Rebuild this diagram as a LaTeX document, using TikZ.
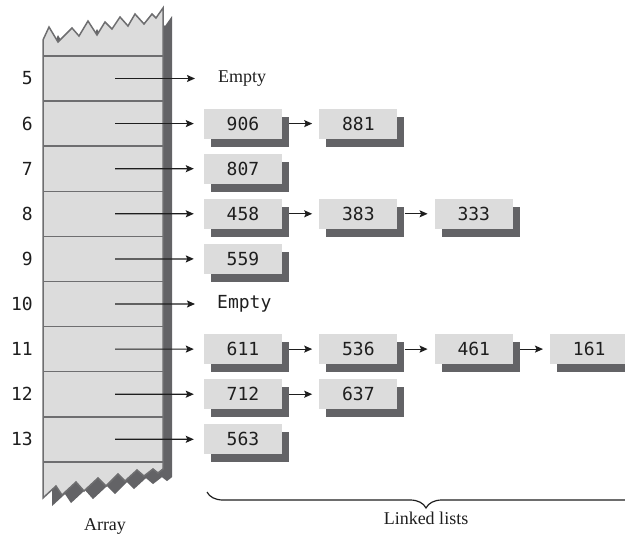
\documentclass[tikz,border=0pt]{standalone}
\usepackage{fontspec}
\setmainfont{Liberation Serif}
\newfontfamily\codefont{DejaVu Sans Mono}
\usetikzlibrary{positioning,arrows.meta,shadows,decorations.pathreplacing}
\definecolor{cellgray}{HTML}{DCDCDC}
\definecolor{edgegray}{HTML}{6E6E70}
\definecolor{shadegray}{HTML}{636366}
\definecolor{inkgray}{HTML}{1E1E1E}

\begin{document}
\begin{tikzpicture}[x=1pt,y=-1pt,
    item/.style={fill=cellgray,minimum width=78pt,minimum height=30pt,inner sep=0pt,
      text=inkgray,font=\codefont\fontsize{18}{20}\selectfont,
      drop shadow={shadow xshift=7pt,shadow yshift=-8pt,fill=shadegray,opacity=1}},
    idx/.style={anchor=east,inner sep=0pt,text=inkgray,font=\codefont\fontsize{18}{20}\selectfont},
    caption/.style={inner sep=0pt,text=inkgray,font=\fontsize{18}{20}\selectfont},
    arr/.style={-{Stealth[length=8pt,width=7pt,inset=1.5pt]},line width=1.2pt,draw=inkgray},
    link/.style={arr,shorten <=7pt,shorten >=7pt},
    arrfill/.style={fill=cellgray,draw=edgegray,line width=1.5pt},
    arrshade/.style={fill=shadegray,draw=none},
    brace/.style={decorate,decoration={brace,mirror,amplitude=16pt},line width=1.2pt,draw=inkgray}
  ]
  \useasboundingbox (0,0) rectangle (625,535);
  \clip (0,0) rectangle (625,535);

  % the array, torn at top and bottom, with its shadow
  \foreach \dx/\st in {9/arrshade,0/arrfill}
    \filldraw[\st,shift={(\dx,\dx*0.9)}] (43,40) -- (49,27) -- (58,42) -- (72,28) -- (79,36)
      -- (88,21) -- (97,35) -- (105,22) -- (112,29) -- (120,17) -- (128,26) -- (135,14)
      -- (144,24) -- (152,14) -- (156,18) -- (163,8) -- (163,469) -- (158,473) -- (153,469)
      -- (144,476) -- (137,470) -- (125,481) -- (118,474) -- (106,486) -- (98,478)
      -- (84,491) -- (76,482) -- (62,495) -- (56,486) -- (43,498) -- cycle;
  \foreach \k in {0,...,9}
    \draw[edgegray,line width=1.5pt] (43,{56+45.1*\k}) -- (163,{56+45.1*\k});

  % slot numbers
  \foreach \k in {5,...,13} {
    \node[idx] (i\k) at (33,{78.5+45.1*(\k-5)}) {\k};
    \coordinate (s\k) at (115,{78.5+45.1*(\k-5)});
  }

  % linked lists
  \node[caption,anchor=west] (empty5) at (218,78.5) {Empty};
  \node[item] (l6a) at (243,123.6) {906};
  \node[item,right=37pt of l6a] (l6b) {881};
  \node[item] (l7a) at (243,168.7) {807};
  \node[item] (l8a) at (243,213.8) {458};
  \node[item,right=37pt of l8a] (l8b) {383};
  \node[item,right=37pt of l8b] (l8c) {333};
  \node[item] (l9a) at (243,258.9) {559};
  \node[idx,anchor=west] (empty10) at (217,304) {Empty};
  \node[item] (l11a) at (243,349.1) {611};
  \node[item,right=37pt of l11a] (l11b) {536};
  \node[item,right=37pt of l11b] (l11c) {461};
  \node[item,right=37pt of l11c] (l11d) {161};
  \node[item] (l12a) at (243,394.2) {712};
  \node[item,right=37pt of l12a] (l12b) {637};
  \node[item] (l13a) at (243,439.3) {563};

  \draw[arr,shorten >=23pt] (s5) -- (empty5.west);
  \draw[arr,shorten >=10pt] (s6) -- (l6a.west);
  \draw[arr,shorten >=10pt] (s7) -- (l7a.west);
  \draw[arr,shorten >=10pt] (s8) -- (l8a.west);
  \draw[arr,shorten >=10pt] (s9) -- (l9a.west);
  \draw[arr,shorten >=22pt] (s10) -- (empty10.west);
  \draw[arr,shorten >=10pt] (s11) -- (l11a.west);
  \draw[arr,shorten >=10pt] (s12) -- (l12a.west);
  \draw[arr,shorten >=10pt] (s13) -- (l13a.west);
  \draw[link] (l6a) -- (l6b);
  \draw[link] (l8a) -- (l8b);
  \draw[link] (l8b) -- (l8c);
  \draw[link] (l11a) -- (l11b);
  \draw[link] (l11b) -- (l11c);
  \draw[link] (l11c) -- (l11d);
  \draw[link] (l12a) -- (l12b);

  % captions
  \draw[brace] (207,492) -- (645,492);
  \node[caption,anchor=base] (arraycap) at (105,530) {Array};
  \node[caption,anchor=base] (listcap) at (426,524) {Linked lists};
\end{tikzpicture}
\end{document}
